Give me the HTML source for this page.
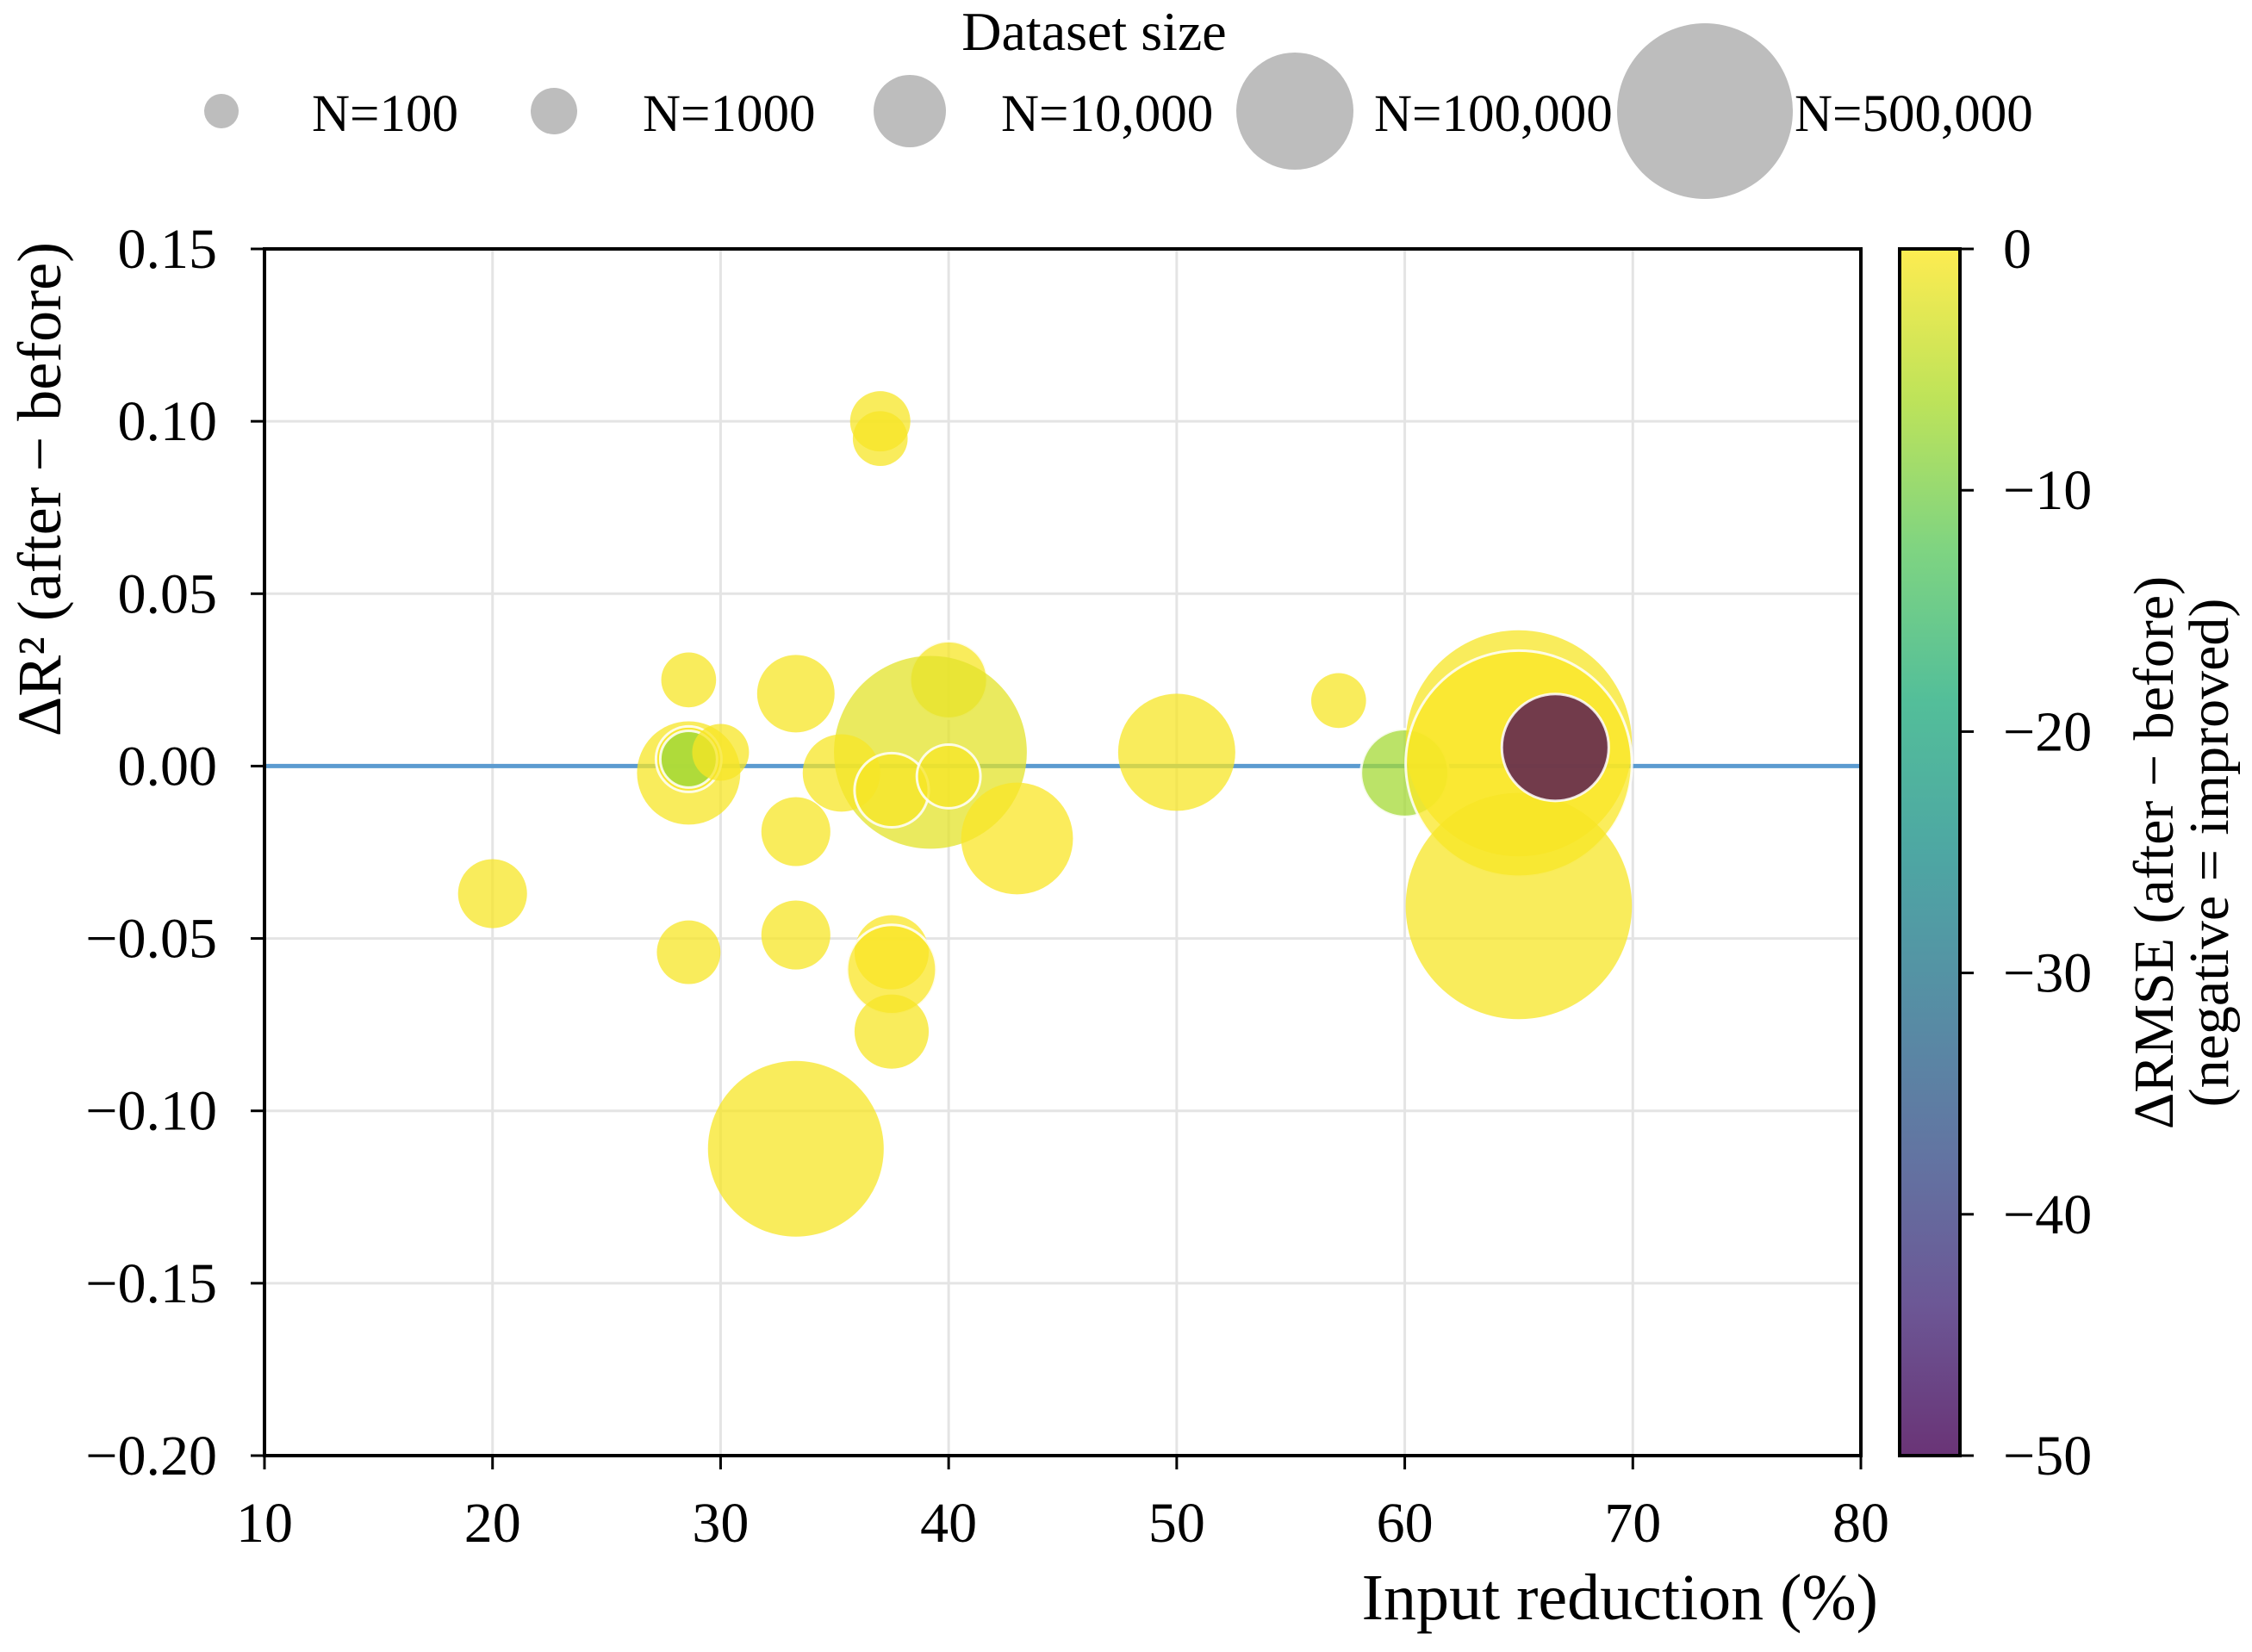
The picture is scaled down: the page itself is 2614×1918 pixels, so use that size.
<!DOCTYPE html>
<html><head><meta charset="utf-8"><style>
html,body{margin:0;padding:0;background:#fff;}
svg{display:block;font-family:"Liberation Serif",serif;}
</style></head><body>
<svg id="chart" width="2614" height="1918" viewBox="0 0 2614 1918" xmlns="http://www.w3.org/2000/svg">
<defs>
<linearGradient id="vir" x1="0" y1="1" x2="0" y2="0">
<stop offset="0" stop-color="#440154"/><stop offset="0.125" stop-color="#472d7b"/><stop offset="0.25" stop-color="#3b528b"/><stop offset="0.375" stop-color="#2c728e"/><stop offset="0.5" stop-color="#21918c"/><stop offset="0.625" stop-color="#28ae80"/><stop offset="0.75" stop-color="#5ec962"/><stop offset="0.875" stop-color="#addc30"/><stop offset="1" stop-color="#fde725"/>
</linearGradient>
</defs>
<g id="grid"></g>
<g id="marks"></g>
<g id="axes"></g>
<g id="legend"></g>
<g id="cbar"></g>
</svg>
<script>
const xTicks=[10,20,30,40,50,60,70,80];
const yTicks=[0.15,0.10,0.05,0.00,-0.05,-0.10,-0.15,-0.20];
const yTickLabels=["0.15","0.10","0.05","0.00","\u22120.05","\u22120.10","\u22120.15","\u22120.20"];
const cTicks=[0,-10,-20,-30,-40,-50];
const cTickLabels=["0","\u221210","\u221220","\u221230","\u221240","\u221250"];
const legendN=[100,1000,10000,100000,500000];
const legendLabels=["N=100","N=1000","N=10,000","N=100,000","N=500,000"];
const legendR=[20,27,42,68,102];
const ptX=[37,37,28.6,33.3,40,39.2,28.6,28.6,28.6,30,35.3,37.5,40,43,33.3,20,28.6,33.3,37.5,37.5,37.5,33.3,50,57.1,60,65,65,65,66.6];
const ptY=[0.100,0.095,0.025,0.021,0.025,0.004,-0.002,0.002,0.002,0.004,-0.002,-0.007,-0.003,-0.021,-0.019,-0.037,-0.054,-0.049,-0.054,-0.059,-0.077,-0.111,0.004,0.019,-0.002,0.0066,0.0007,-0.0406,0.0054];
const ptN=[3400,2100,2100,13000,13000,800000,49000,5400,2500,2500,13000,11000,4600,76000,7400,7400,4600,7400,11000,24000,11000,500000,100000,2100,22000,2000000,2000000,2000000,59000];
const ptC=[-0.5,-0.5,-0.5,-0.5,-0.5,-2,-0.5,-0.5,-8,-0.5,-0.5,-0.5,-0.5,-0.3,-0.5,-0.5,-0.5,-0.5,-0.3,-0.3,-0.5,-0.5,-0.5,-0.5,-7,-0.5,-0.2,-0.5,-50];
const ptEdge=[0,0,0,0,1,0,0,1,1,0,0,1,1,0,0,0,0,0,0,1,0,0,0,0,1,0,1,0,1];

const NS="http://www.w3.org/2000/svg";
const L=307,R=2160,T=289,B=1690;
const sx=v=>L+(v-10)/70*(R-L);
const sy=v=>T+(0.15-v)/0.35*(B-T);
function mk(tag,attrs,parent,text){const e=document.createElementNS(NS,tag);for(const k in attrs)e.setAttribute(k,attrs[k]);if(text!==undefined)e.textContent=text;parent.appendChild(e);return e;}
function rOf(n){const lg=Math.log10(n);const lx=legendN.map(Math.log10);
 let i=0;while(i<lx.length-2&&lg>lx[i+1])i++;
 return legendR[i]+(lg-lx[i])*(legendR[i+1]-legendR[i])/(lx[i+1]-lx[i]);}
const vs=[[68,1,84],[71,45,123],[59,82,139],[44,114,142],[33,145,140],[40,174,128],[94,201,98],[173,220,48],[253,231,37]];
function vir(v){let t=(v+50)/50;t=Math.max(0,Math.min(1,t))*8;const i=Math.min(7,Math.floor(t)),f=t-i;const c=vs[i].map((a,k)=>Math.round(a+(vs[i+1][k]-a)*f));return `rgb(${c[0]},${c[1]},${c[2]})`;}

const grid=document.getElementById('grid');
xTicks.forEach(v=>{const l=mk('line',{x1:sx(v),x2:sx(v),y1:T,y2:B,stroke:'#e4e4e4','stroke-width':3},grid);

});
yTicks.forEach(v=>{const l=mk('line',{x1:L,x2:R,y1:sy(v),y2:sy(v),stroke:'#e4e4e4','stroke-width':3},grid);

});

const marks=document.getElementById('marks');
const zl=mk('line',{x1:L,x2:R,y1:sy(0),y2:sy(0),stroke:'#5b9bd0','stroke-width':5},marks);


ptX.forEach((x,i)=>{const c=mk('circle',{cx:sx(x),cy:sy(ptY[i]),r:rOf(ptN[i]),fill:vir(ptC[i]),'fill-opacity':0.75,stroke:ptEdge[i]?'#ffffff':'none','stroke-width':ptEdge[i]?3:0,'stroke-opacity':0.85},marks);

});

const ax=document.getElementById('axes');
const fr=mk('rect',{x:L,y:T,width:R-L,height:B-T,fill:'none',stroke:'#000','stroke-width':4},ax);


xTicks.forEach(v=>{mk('line',{x1:sx(v),x2:sx(v),y1:B,y2:B+16,stroke:'#000','stroke-width':3},ax);
const t=mk('text',{x:sx(v),y:1790,'font-size':66,'text-anchor':'middle'},ax,String(v));

});
yTicks.forEach((v,i)=>{mk('line',{x1:L-16,x2:L,y1:sy(v),y2:sy(v),stroke:'#000','stroke-width':3},ax);
const t=mk('text',{x:252,y:sy(v)+22,'font-size':66,'text-anchor':'end'},ax,yTickLabels[i]);

});
const xl=mk('text',{x:2180,y:1880,'font-size':76,'text-anchor':'end'},ax,'Input reduction (%)');


const yl=mk('text',{x:0,y:0,'font-size':72,'text-anchor':'middle',transform:'translate(70,568) rotate(-90)'},ax,'\u0394R\u00b2 (after \u2212 before)');



const lg=document.getElementById('legend');
const lt=mk('text',{x:1270,y:58,'font-size':64,'text-anchor':'middle'},lg,'Dataset size');


const lmx=[257,643,1056,1503,1979], ltx=[362,746,1162,1595,2083];
legendN.forEach((n,i)=>{const c=mk('circle',{cx:lmx[i],cy:129,r:rOf(n),fill:'#bdbdbd'},lg);


const t=mk('text',{x:ltx[i],y:152,'font-size':61},lg,legendLabels[i]);

});

const cb=document.getElementById('cbar');
const CL=2205,CR=2275;
const cr=mk('rect',{x:CL,y:T,width:CR-CL,height:B-T,fill:'url(#vir)','fill-opacity':0.8,stroke:'#000','stroke-width':4},cb);


const cy=v=>T+(0-v)/50*(B-T);
cTicks.forEach((v,i)=>{mk('line',{x1:CR,x2:CR+16,y1:cy(v),y2:cy(v),stroke:'#000','stroke-width':3},cb);
const t=mk('text',{x:2325,y:cy(v)+22,'font-size':66},cb,cTickLabels[i]);

});
const c1=mk('text',{x:0,y:0,'font-size':66,'text-anchor':'middle',transform:'translate(2522,990) rotate(-90)'},cb,'\u0394RMSE (after \u2212 before)');


const c2=mk('text',{x:0,y:0,'font-size':66,'text-anchor':'middle',transform:'translate(2586,990) rotate(-90)'},cb,'(negative = improved)');


</script>
</body></html>
